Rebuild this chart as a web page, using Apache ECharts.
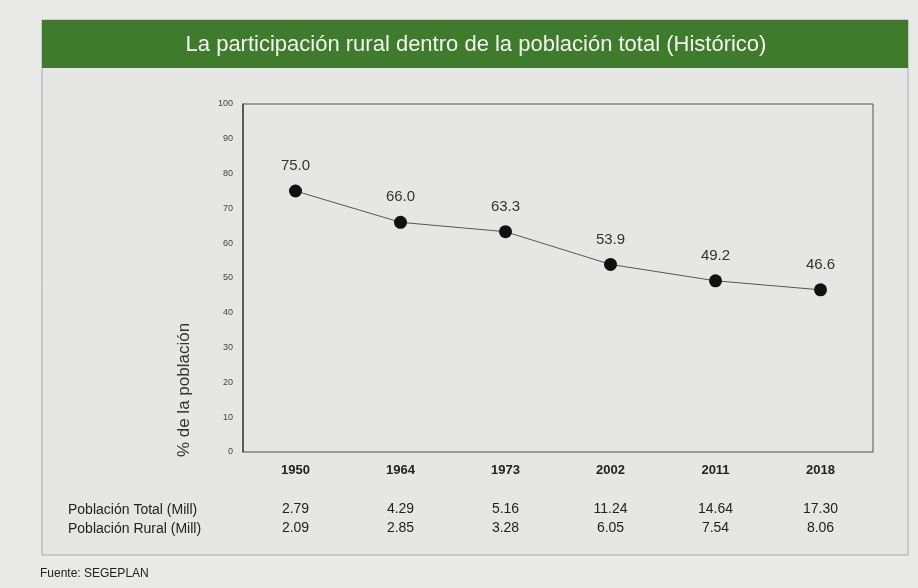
<!DOCTYPE html>
<html>
<head>
<meta charset="utf-8">
<script src="https://cdn.jsdelivr.net/npm/echarts@6/dist/echarts.min.js"></script>
<style>
  html, body { margin: 0; padding: 0; background: #e9e9e7; }
  #main { width: 918px; height: 588px; }
</style>
</head>
<body>
<div id="main"></div>
<script>
// data
var years = ["1950", "1964", "1973", "2002", "2011", "2018"];
var ruralShare = [75.0, 66.0, 63.3, 53.9, 49.2, 46.6];
var totalPop = ["2.79", "4.29", "5.16", "11.24", "14.64", "17.30"];
var ruralPop = ["2.09", "2.85", "3.28", "6.05", "7.54", "8.06"];

var chart = echarts.init(document.getElementById("main"));
var font = "Liberation Sans, Arial, sans-serif";

var option = {
  backgroundColor: "#e9e9e7",
  textStyle: { fontFamily: font },
  graphic: [
    // card frame
    {
      type: "rect", z: -10,
      shape: { x: 42, y: 20, width: 866, height: 535 },
      style: { fill: "#e6e6e4", stroke: "#a8a8a8", lineWidth: 1 }
    },
    // green header
    {
      type: "rect", z: -5,
      shape: { x: 42, y: 20, width: 866, height: 48 },
      style: { fill: "#3e7b2b" }
    },
    {
      type: "text", x: 476, y: 45,
      style: {
        text: "La participación rural dentro de la población total (Histórico)",
        fill: "#f4f4f0", font: "22px " + font,
        align: "center", verticalAlign: "middle"
      }
    },
    // y axis title
    {
      type: "text", x: 184, y: 390, rotation: Math.PI / 2,
      style: {
        text: "% de la población", fill: "#333", font: "17px " + font,
        align: "center", verticalAlign: "middle"
      }
    },
    // table row labels
    {
      type: "text", left: 68, top: 503,
      style: { text: "Población Total (Mill)", fill: "#222", font: "14px " + font }
    },
    {
      type: "text", left: 68, top: 522,
      style: { text: "Población Rural (Mill)", fill: "#222", font: "14px " + font }
    },
    // source
    {
      type: "text", left: 40, top: 568,
      style: { text: "Fuente: SEGEPLAN", fill: "#222", font: "12px " + font }
    }
  ],
  grid: {
    left: 243, right: 45, top: 104, bottom: 136,
    show: true, borderColor: "#555", borderWidth: 1,
    backgroundColor: "transparent"
  },
  xAxis: {
    type: "category",
    data: years,
    boundaryGap: true,
    axisLine: { lineStyle: { color: "#999", width: 1 } },
    axisTick: { show: false },
    axisLabel: {
      margin: 10,
      interval: 0,
      formatter: function (v, i) {
        return "{y|" + v + "}\n{gap|}\n{v|" + totalPop[i] + "}\n{v|" + ruralPop[i] + "}";
      },
      rich: {
        y: { fontSize: 13, fontWeight: "bold", color: "#222", lineHeight: 16 },
        gap: { lineHeight: 22 },
        v: { fontSize: 14, color: "#222", lineHeight: 19 }
      }
    }
  },
  yAxis: {
    type: "value",
    min: 0, max: 100, interval: 10,
    splitLine: { show: false },
    axisLine: { show: true, lineStyle: { color: "#444", width: 1.5 } },
    axisTick: { show: false },
    axisLabel: { fontSize: 9, color: "#444", margin: 10 }
  },
  series: [
    {
      type: "line",
      data: ruralShare,
      symbol: "circle",
      symbolSize: 13,
      itemStyle: { color: "#111" },
      lineStyle: { color: "#555", width: 1 },
      label: {
        show: true, position: "top", distance: 11,
        fontSize: 15, color: "#333",
        formatter: function (p) { return p.value.toFixed(1); }
      }
    }
  ]
};

chart.setOption(option);
</script>
</body>
</html>
